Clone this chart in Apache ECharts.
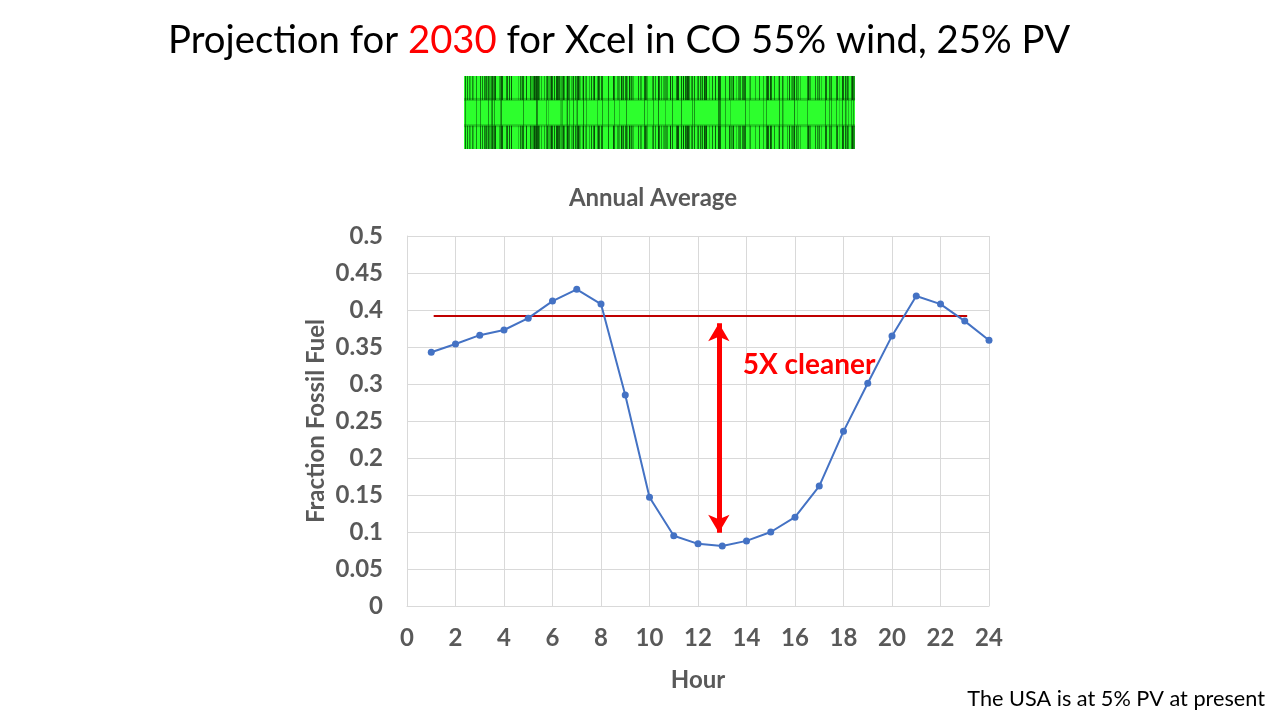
<!DOCTYPE html>
<html>
<head>
<meta charset="utf-8">
<script src="https://cdn.jsdelivr.net/npm/echarts@6/dist/echarts.min.js"></script>
<style>
  html, body { margin: 0; padding: 0; background: #fff; }
  #chart { width: 1280px; height: 720px; }
</style>
</head>
<body>
<div id="chart"></div>
<script>
// hourly annual average, fraction of load served by fossil fuel
const hours = [1, 2, 3, 4, 5, 6, 7, 8, 9, 10, 11, 12, 13, 14, 15, 16, 17, 18, 19, 20, 21, 22, 23, 24]
const fossilFraction = [0.343, 0.354, 0.366, 0.373, 0.389, 0.412, 0.428, 0.408, 0.285, 0.147, 0.095, 0.084,
  0.081, 0.088, 0.100, 0.120, 0.162, 0.236, 0.301, 0.365, 0.419, 0.408, 0.385, 0.359]

// reference level line and the arrow annotation
const refLineX = [1.1, 23.1]
const refLineY = 0.392
const arrowX = 12.86
const arrowY = [0.382, 0.099]
const noteLabel = '5X cleaner'
const notePos = [16.58, 0.326]

const gray = '#595959'
const font = 'Lato, "Open Sans", sans-serif'

// decorative green strip under the title (deterministic stripes)
function makeStrip(w, h) {
  const c = document.createElement('canvas')
  c.width = w
  c.height = h
  const ctx = c.getContext('2d')
  ctx.fillStyle = '#2dff2d'
  ctx.fillRect(0, 0, w, h)
  for (let x = 0; x < w; x++) {
    const a = Math.abs(Math.sin(x * 12.9898) * 43758.5453) % 1
    const b = Math.abs(Math.sin(x * 78.233) * 12345.678) % 1
    if (a > 0.45) {
      ctx.fillStyle = 'rgba(0,40,0,' + (0.25 + 0.6 * b) + ')'
      ctx.fillRect(x, 0, 1, h * 0.33)
      ctx.fillRect(x, h * 0.68, 1, h * 0.32)
    }
    if (a > 0.82) {
      ctx.fillStyle = 'rgba(0,40,0,' + (0.2 + 0.4 * b) + ')'
      ctx.fillRect(x, h * 0.33, 1, h * 0.35)
    }
  }
  ctx.fillStyle = 'rgba(0,50,0,0.25)'
  ctx.fillRect(0, h * 0.3, w, 3)
  ctx.fillRect(0, h * 0.66, w, 3)
  return c
}

const chart = echarts.init(document.getElementById('chart'))

chart.setOption({
  animation: false,
  title: {
    text: 'Annual Average',
    left: 648,
    textAlign: 'center',
    top: 181,
    textStyle: { color: gray, fontSize: 24, fontWeight: 'bold', fontFamily: font }
  },
  grid: { left: 407, right: 291, top: 236, bottom: 114 },
  xAxis: {
    type: 'value',
    min: 0,
    max: 24,
    interval: 2,
    name: 'Hour',
    nameLocation: 'middle',
    nameGap: 62,
    nameTextStyle: { color: gray, fontSize: 24, fontWeight: 'bold', fontFamily: font },
    axisLine: { lineStyle: { color: '#d9d9d9' } },
    axisTick: { show: false },
    axisLabel: { color: gray, fontSize: 24, fontWeight: 'bold', fontFamily: font, margin: 20 },
    splitLine: { show: true, lineStyle: { color: '#d9d9d9' } }
  },
  yAxis: {
    type: 'value',
    min: 0,
    max: 0.5,
    interval: 0.05,
    name: 'Fraction Fossil Fuel',
    nameLocation: 'middle',
    nameGap: 79,
    nameTextStyle: { color: gray, fontSize: 24, fontWeight: 'bold', fontFamily: font },
    axisLine: { show: true, lineStyle: { color: '#d9d9d9' } },
    axisTick: { show: false },
    axisLabel: { color: gray, fontSize: 24, fontWeight: 'bold', fontFamily: font, margin: 24 },
    splitLine: { show: true, lineStyle: { color: '#d9d9d9' } }
  },
  series: [
    {
      type: 'line',
      data: hours.map((h, i) => [h, fossilFraction[i]]),
      symbol: 'circle',
      symbolSize: 7,
      lineStyle: { color: '#4472c4', width: 2 },
      itemStyle: { color: '#4472c4' },
      z: 3
    },
    {
      type: 'line',
      data: refLineX.map(x => [x, refLineY]),
      symbol: 'none',
      lineStyle: { color: '#c00000', width: 2 },
      z: 2,
      markLine: {
        silent: true,
        symbol: ['arrow', 'arrow'],
        symbolSize: [16, 18],
        label: { show: false },
        lineStyle: { color: '#ff0000', width: 5, type: 'solid' },
        data: [[{ coord: [arrowX, arrowY[0]] }, { coord: [arrowX, arrowY[1]] }]]
      },
      markPoint: {
        symbol: 'circle',
        symbolSize: 2,
        itemStyle: { color: 'transparent' },
        label: {
          show: true,
          position: 'inside',
          formatter: noteLabel,
          color: '#ff0000',
          fontSize: 28,
          fontWeight: 'bold',
          fontFamily: font
        },
        data: [{ coord: notePos }]
      }
    }
  ],
  graphic: [
    {
      type: 'text',
      left: 168,
      top: 22,
      style: {
        text: '{a|Projection for }{r|2030}{a| for Xcel in CO 55% wind, 25% PV}',
        rich: {
          a: { fontSize: 38.3, fontFamily: font, fill: '#000' },
          r: { fontSize: 38.3, fontFamily: font, fill: '#ff0000' }
        }
      }
    },
    {
      type: 'image',
      left: 464,
      top: 76,
      style: { image: makeStrip(391, 73), width: 391, height: 73 }
    },
    {
      type: 'text',
      right: 15,
      top: 688,
      style: { text: 'The USA is at 5% PV at present', fontSize: 21.7, fontFamily: font, fill: '#000' }
    }
  ]
})
</script>
</body>
</html>
